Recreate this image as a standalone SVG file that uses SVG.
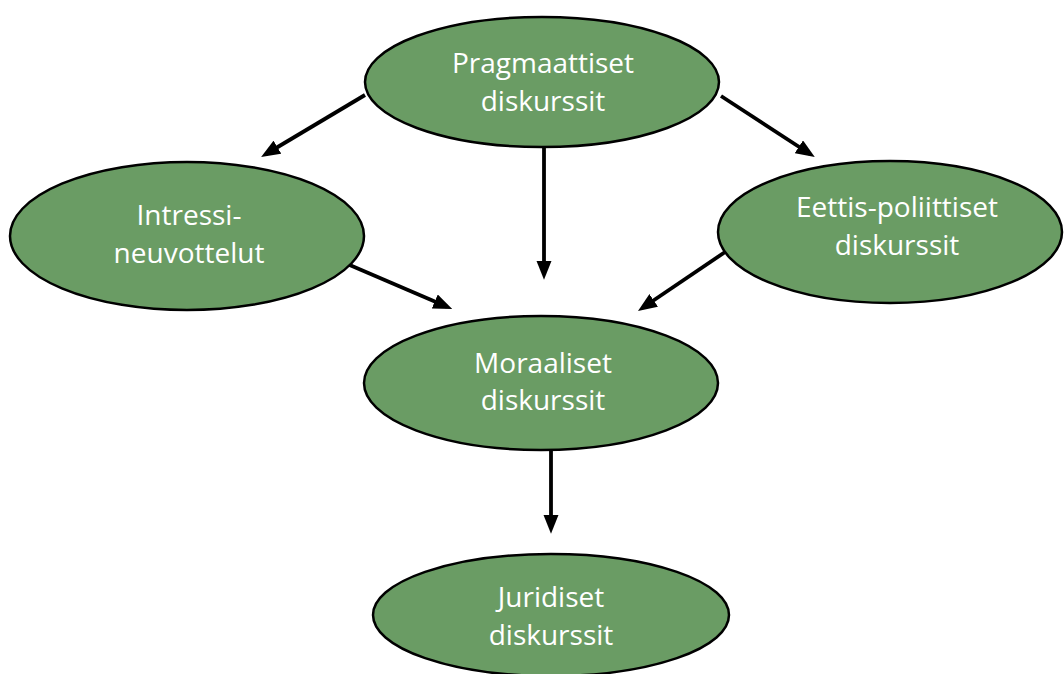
<svg xmlns="http://www.w3.org/2000/svg" width="1064" height="674" viewBox="0 0 1064 674">
<style>
.n{fill:#6a9c64;stroke:#000;stroke-width:2.5}
.t{font-family:"Open Sans","Noto Sans",sans-serif;font-size:28px;fill:#fff;text-anchor:middle}
.c{stroke:#000;stroke-width:3.8;fill:none;marker-end:url(#ah)}
</style>
<defs>
<marker id="ah" markerWidth="5" markerHeight="4" refX="3.5" refY="2" orient="auto" markerUnits="strokeWidth"><path d="M0,0 L5,2 L0,4 z" fill="#000"/></marker>
</defs>
<rect width="1064" height="674" fill="#fff"/>
<g id="connectors">
<line class="c" x1="365" y1="95" x2="266" y2="154"/>
<line class="c" x1="721" y1="96" x2="810" y2="154"/>
<line class="c" x1="544" y1="147" x2="544" y2="274"/>
<line class="c" x1="345" y1="263" x2="447" y2="306.7"/>
<line class="c" x1="731" y1="248" x2="642.7" y2="307.8"/>
<line class="c" x1="551" y1="450" x2="551" y2="528"/>
</g>
<g id="n1"><ellipse class="n" cx="542" cy="82" rx="177" ry="65"/><text class="t" x="543" y="73">Pragmaattiset</text><text class="t" x="543" y="111">diskurssit</text></g>
<g id="n2"><ellipse class="n" cx="187" cy="236" rx="177" ry="74"/><text class="t" x="189" y="225">Intressi-</text><text class="t" x="189" y="263">neuvottelut</text></g>
<g id="n3"><ellipse class="n" cx="890" cy="232" rx="172" ry="71"/><text class="t" x="897" y="217">Eettis-poliittiset</text><text class="t" x="897" y="255">diskurssit</text></g>
<g id="n4"><ellipse class="n" cx="541" cy="383" rx="177" ry="67"/><text class="t" x="543" y="373">Moraaliset</text><text class="t" x="543" y="410">diskurssit</text></g>
<g id="n5"><ellipse class="n" cx="551" cy="615" rx="178" ry="61"/><text class="t" x="551" y="607">Juridiset</text><text class="t" x="551" y="645">diskurssit</text></g>
</svg>
